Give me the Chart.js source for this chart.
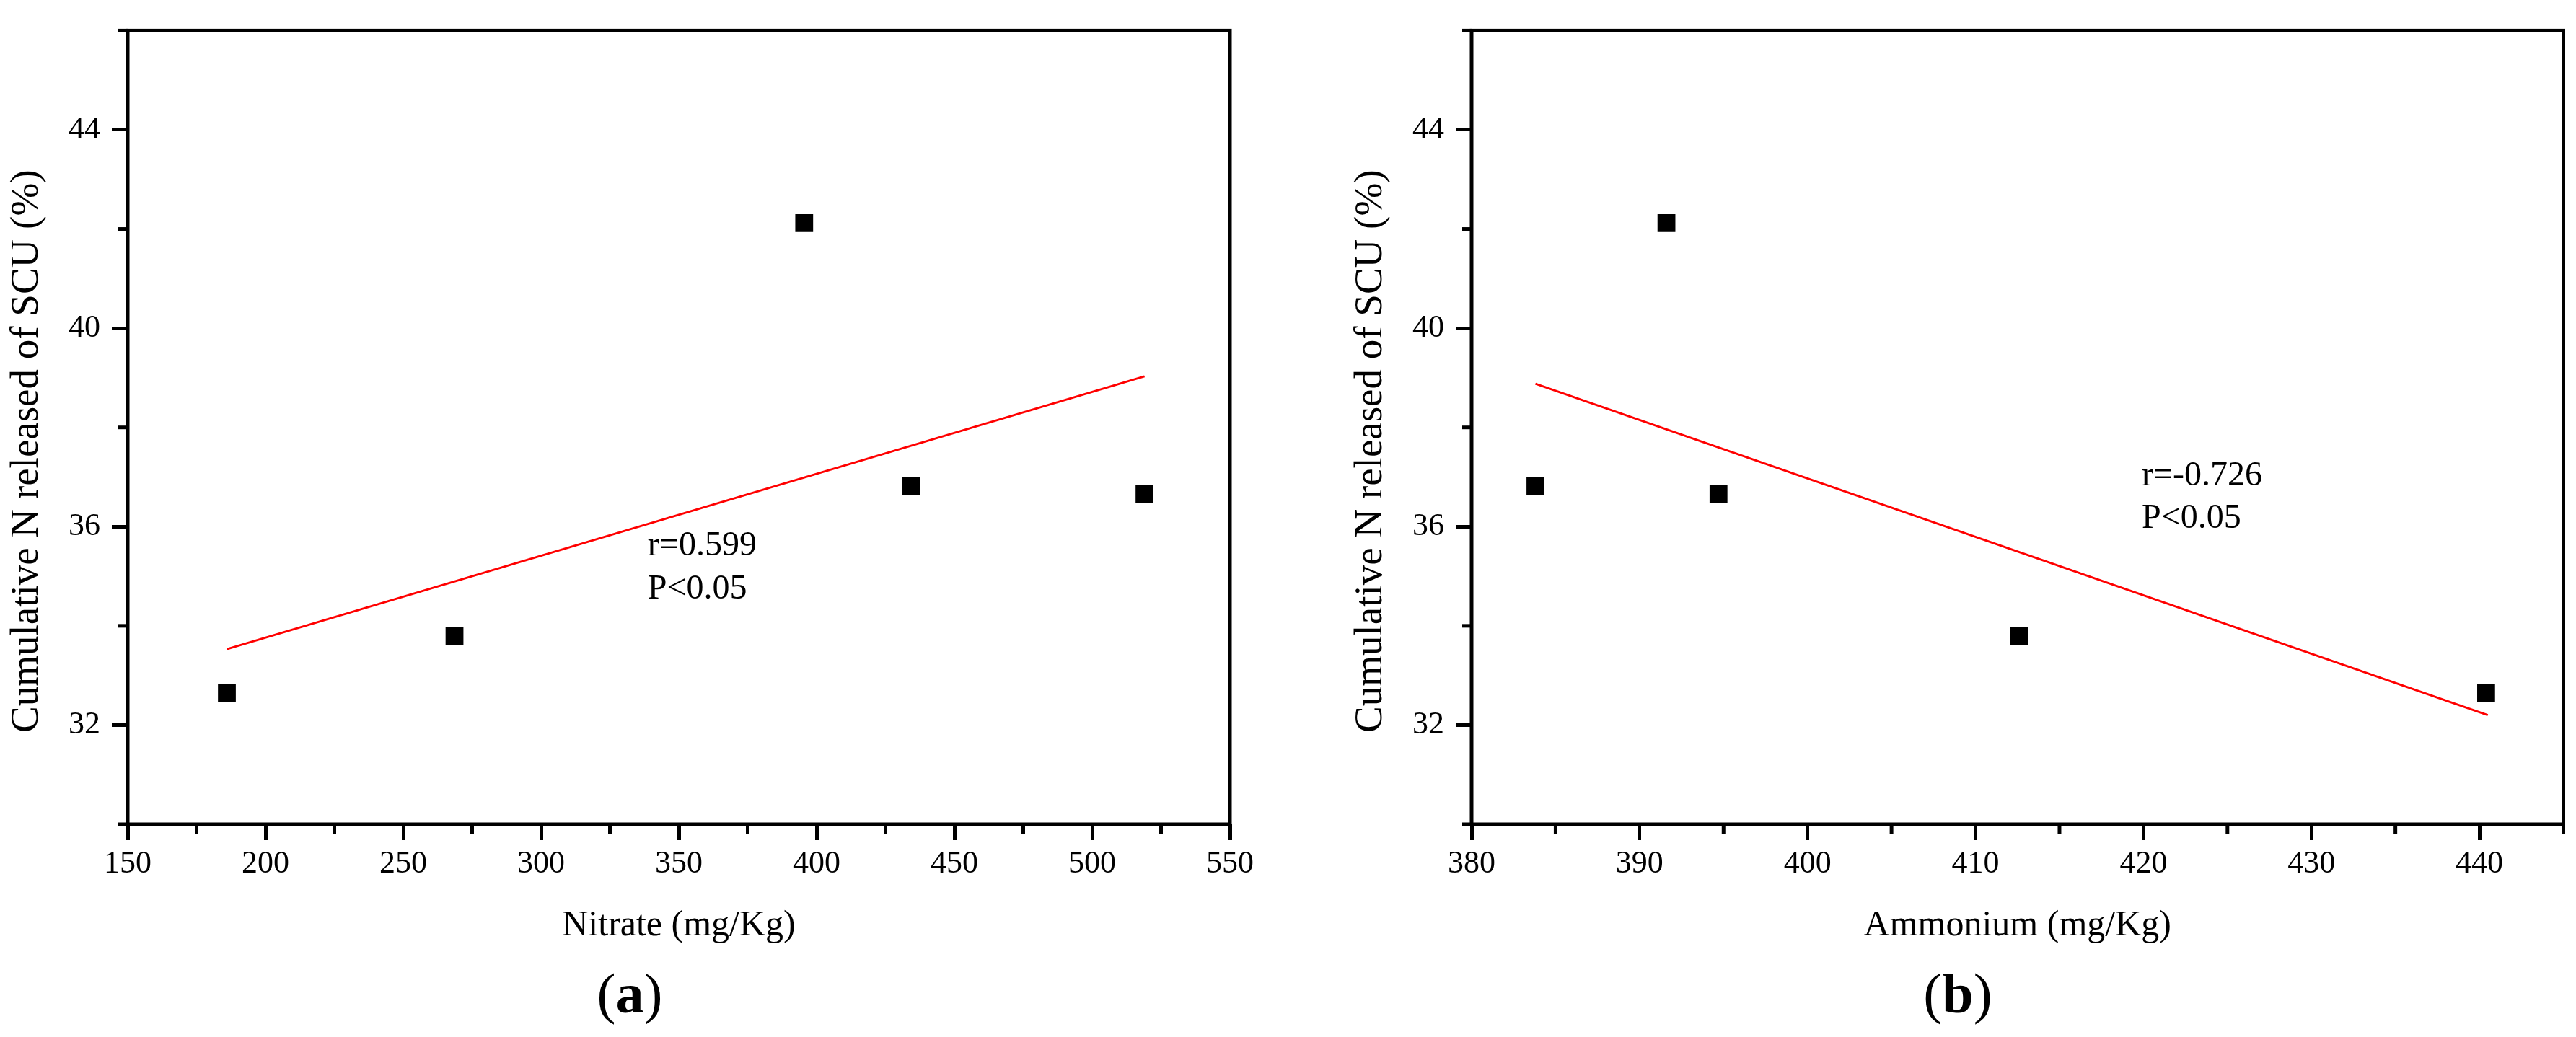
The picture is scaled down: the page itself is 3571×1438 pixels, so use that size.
<!DOCTYPE html>
<html>
<head>
<meta charset="utf-8">
<script src="https://cdn.jsdelivr.net/npm/chart.js@4.4.1/dist/chart.umd.min.js"></script>
<style>
  html, body { margin: 0; padding: 0; background: #fff; }
  #wrap { position: relative; width: 3571px; height: 1438px; background: #fff; overflow: hidden; }
  canvas { position: absolute; top: 0; }
  .panel { position: absolute; top: 1339px; font-family: 'Liberation Serif', 'Times New Roman', serif;
           font-size: 78px; line-height: 1; color: #000; transform: translateX(-50%); white-space: nowrap; }
  .panel b { font-weight: bold; }
</style>
</head>
<body>
<div id="wrap">
  <canvas id="cA" width="1785" height="1438" style="left:0px;width:1785px;height:1438px"></canvas>
  <canvas id="cB" width="1786" height="1438" style="left:1785px;width:1786px;height:1438px"></canvas>
  <div class="panel" style="left:873px">(<b>a</b>)</div>
  <div class="panel" style="left:2714px">(<b>b</b>)</div>
</div>
<script>
// ---------------- data ----------------
const nitrate   = [186.0, 268.6, 395.5, 434.3, 519.0];
const ammonium  = [440.4, 412.6, 391.6, 383.8, 394.7];
const releaseSCU = [32.65, 33.80, 42.12, 36.82, 36.66];

const fitNitrateX  = [186.0, 519.0];
const fitNitrateY  = [33.53, 39.03];
const fitAmmoniumX = [383.8, 440.5];
const fitAmmoniumY = [38.88, 32.20];

const xTicksA = [150, 200, 250, 300, 350, 400, 450, 500, 550];
const xMinorA = [175, 225, 275, 325, 375, 425, 475, 525];
const xTicksB = [380, 390, 400, 410, 420, 430, 440];
const xMinorB = [385, 395, 405, 415, 425, 435, 445];
const yTicks  = [32, 36, 40, 44];
const yMinor  = [30, 34, 38, 42, 46];

const notesA = ['r=0.599', 'P<0.05'];
const notesAX = [338.7, 338.7];
const notesAY = [35.42, 34.55];
const notesB = ['r=-0.726', 'P<0.05'];
const notesBX = [419.9, 419.9];
const notesBY = [36.83, 35.98];

const yTitle = 'Cumulative N released of SCU (%)';
const FONT = "'Liberation Serif', 'Times New Roman', serif";

// ---------------- plugins ----------------
const framePlugin = {
  id: 'frame',
  beforeDatasetsDraw(chart) {
    const a = chart.chartArea, ctx = chart.ctx;
    ctx.save();
    ctx.strokeStyle = '#000';
    ctx.lineWidth = 5;
    ctx.strokeRect(a.left, a.top, a.right - a.left, a.bottom - a.top);
    ctx.restore();
  }
};

const minorPlugin = {
  id: 'minorTicks',
  afterDraw(chart, args, opts) {
    const a = chart.chartArea, ctx = chart.ctx;
    const xs = chart.scales.x, ys = chart.scales.y;
    ctx.save();
    ctx.strokeStyle = '#000';
    ctx.lineWidth = 5;
    ctx.lineCap = 'butt';
    (opts.x || []).forEach(v => {
      const px = xs.getPixelForValue(v);
      ctx.beginPath(); ctx.moveTo(px, a.bottom); ctx.lineTo(px, a.bottom + 13); ctx.stroke();
    });
    (opts.y || []).forEach(v => {
      const py = ys.getPixelForValue(v);
      ctx.beginPath(); ctx.moveTo(a.left, py); ctx.lineTo(a.left - 13, py); ctx.stroke();
    });
    ctx.restore();
  }
};

const notesPlugin = {
  id: 'notes',
  afterDatasetsDraw(chart, args, opts) {
    const ctx = chart.ctx, xs = chart.scales.x, ys = chart.scales.y;
    ctx.save();
    ctx.fillStyle = '#000';
    ctx.font = '48px ' + FONT;
    ctx.textAlign = 'left';
    ctx.textBaseline = 'alphabetic';
    (opts.text || []).forEach((t, i) => {
      ctx.fillText(t, xs.getPixelForValue(opts.x[i]), ys.getPixelForValue(opts.y[i]));
    });
    ctx.restore();
  }
};

// y-axis title, drawn a little below the axis centre as in the original figure
const yTitlePlugin = {
  id: 'yTitle',
  afterDraw(chart, args, opts) {
    const a = chart.chartArea, ctx = chart.ctx;
    ctx.save();
    ctx.translate(a.left - 139, a.top + (a.bottom - a.top) * 0.53);
    ctx.rotate(-Math.PI / 2);
    ctx.fillStyle = '#000';
    ctx.font = '55px ' + FONT;
    ctx.textAlign = 'center';
    ctx.textBaseline = 'middle';
    ctx.fillText(opts.text, 0, 0);
    ctx.restore();
  }
};

// ---------------- chart builder ----------------
function build(id, xs, fitX, fitY, xMin, xMax, xTicks, xMinor, xTitle, notes, nx, ny, leftPad, rightPad) {
  const pts = xs.map((x, i) => ({ x: x, y: releaseSCU[i] }));
  const fit = fitX.map((x, i) => ({ x: x, y: fitY[i] }));
  return new Chart(document.getElementById(id), {
    type: 'scatter',
    data: {
      datasets: [
        { data: fit, showLine: true, borderColor: '#ff0000', borderWidth: 3, pointRadius: 0, fill: false, order: 2 },
        { data: pts, pointStyle: 'rect', pointRadius: 17.5, pointBackgroundColor: '#000', pointBorderWidth: 0, pointBorderColor: '#000', order: 1 }
      ]
    },
    options: {
      responsive: false,
      animation: false,
      devicePixelRatio: 1,
      layout: { padding: { left: leftPad, right: rightPad, top: 18, bottom: 120 } },
      plugins: {
        legend: { display: false },
        tooltip: { enabled: false },
        minorTicks: { x: xMinor, y: yMinor },
        notes: { text: notes, x: nx, y: ny },
        yTitle: { text: yTitle }
      },
      scales: {
        x: {
          type: 'linear', min: xMin, max: xMax,
          afterBuildTicks: s => { s.ticks = xTicks.map(v => ({ value: v })); },
          afterFit: s => { s.height = 175; },
          border: { display: false },
          grid: { display: true, drawOnChartArea: false, drawTicks: true, tickLength: 22, tickWidth: 5, tickColor: '#000' },
          ticks: { color: '#000', font: { family: FONT, size: 44 }, padding: 7, maxRotation: 0, autoSkip: false },
          title: { display: true, text: xTitle, color: '#000', font: { family: FONT, size: 50 }, padding: { top: 0, bottom: 4 } }
        },
        y: {
          type: 'linear', min: 30, max: 46,
          afterBuildTicks: s => { s.ticks = yTicks.map(v => ({ value: v })); },
          afterFit: s => { s.width = 177; },
          border: { display: false },
          grid: { display: true, drawOnChartArea: false, drawTicks: true, tickLength: 22, tickWidth: 5, tickColor: '#000' },
          ticks: { color: '#000', font: { family: FONT, size: 44 }, padding: 16, autoSkip: false },
          title: { display: false }
        }
      }
    },
    plugins: [framePlugin, minorPlugin, notesPlugin, yTitlePlugin]
  });
}

build('cA', nitrate, fitNitrateX, fitNitrateY, 150, 550, xTicksA, xMinorA, 'Nitrate (mg/Kg)', notesA, notesAX, notesAY, 0, 80);
build('cB', ammonium, fitAmmoniumX, fitAmmoniumY, 380, 445, xTicksB, xMinorB, 'Ammonium (mg/Kg)', notesB, notesBX, notesBY, 78, 15);
</script>
</body>
</html>
